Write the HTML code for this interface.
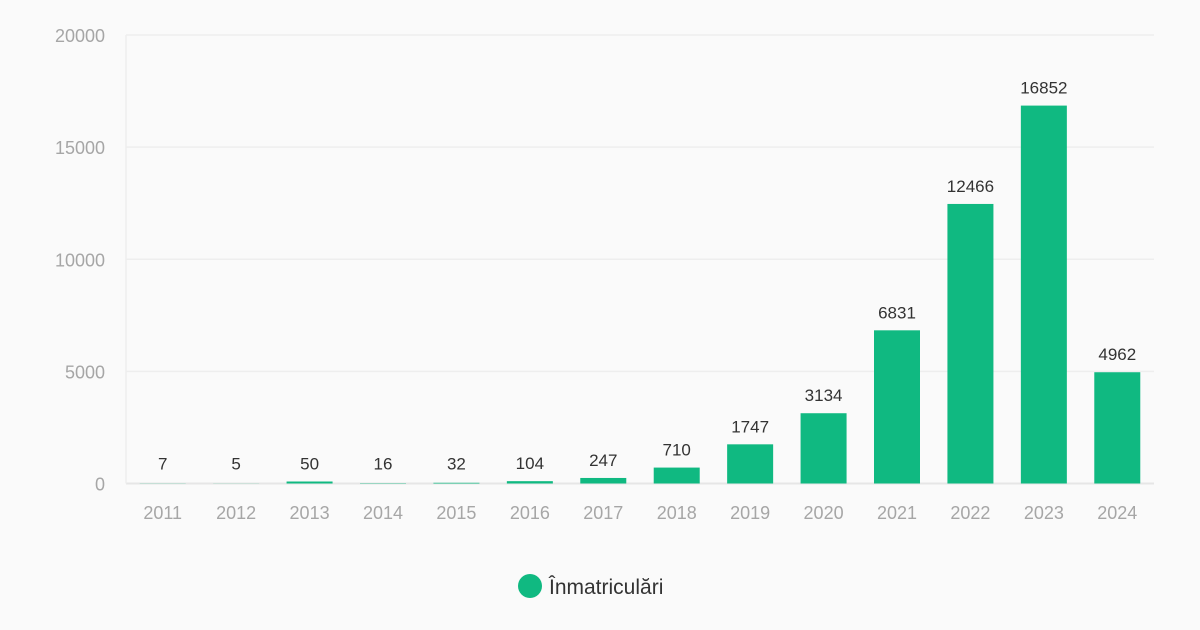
<!DOCTYPE html>
<html><head><meta charset="utf-8"><style>
html,body{margin:0;padding:0;background:#fafafa;}
svg{display:block;font-family:"Liberation Sans",sans-serif;}
</style></head><body>
<svg id="chart" width="1200" height="630"></svg>
<script>
const categories=["2011","2012","2013","2014","2015","2016","2017","2018","2019","2020","2021","2022","2023","2024"];
const values=[7,5,50,16,32,104,247,710,1747,3134,6831,12466,16852,4962];
const yTicks=[0,5000,10000,15000,20000];
const seriesName="Înmatriculări";
const NS="http://www.w3.org/2000/svg";
const svg=document.getElementById('chart');
const x0=126,x1=1154,yBase=483.5,yTop=35,yMax=20000;
const band=(x1-x0)/categories.length;
const barW=46;
function xScale(i){return x0+band*i+band/2;}
function yScale(v){return yBase-(v/yMax)*(yBase-yTop);}
function mk(tag,attrs,text){const e=document.createElementNS(NS,tag);for(const k in attrs)e.setAttribute(k,attrs[k]);if(text!==undefined)e.textContent=text;svg.appendChild(e);return e;}
yTicks.forEach(t=>{
  const g=mk('line',{x1:x0,x2:x1,y1:yScale(t),y2:yScale(t),stroke:t===0?'#e6e6e6':'#eeeeee','stroke-width':t===0?2:1.5});
  
  
  const l=mk('text',{x:105,y:yScale(t)+7,'text-anchor':'end','font-size':18,fill:'#a6a6a6'},t);
  
  
});
const ax=mk('line',{x1:x0,x2:x0,y1:yTop,y2:yBase,stroke:'#eeeeee','stroke-width':1.5});


categories.forEach((c,i)=>{
  const v=values[i];
  const top=yScale(v);
  const h=Math.max(yBase-top,v>=40?2:0);
  const r=mk('rect',{x:xScale(i)-barW/2,y:yBase-h,width:barW,height:h,fill:'#10b981'});
  
  
  const vl=mk('text',{x:xScale(i),y:Math.min(top,yBase-2)-12,'text-anchor':'middle','font-size':17,fill:'#333'},v);
  
  
  const xl=mk('text',{x:xScale(i),y:519,'text-anchor':'middle','font-size':18,fill:'#a6a6a6'},c);
  
  
});
const lc=mk('circle',{cx:530,cy:586,r:12,fill:'#10b981'});


const lt=mk('text',{x:549,y:594,'font-size':21,fill:'#333'},seriesName);


</script>
</body></html>
